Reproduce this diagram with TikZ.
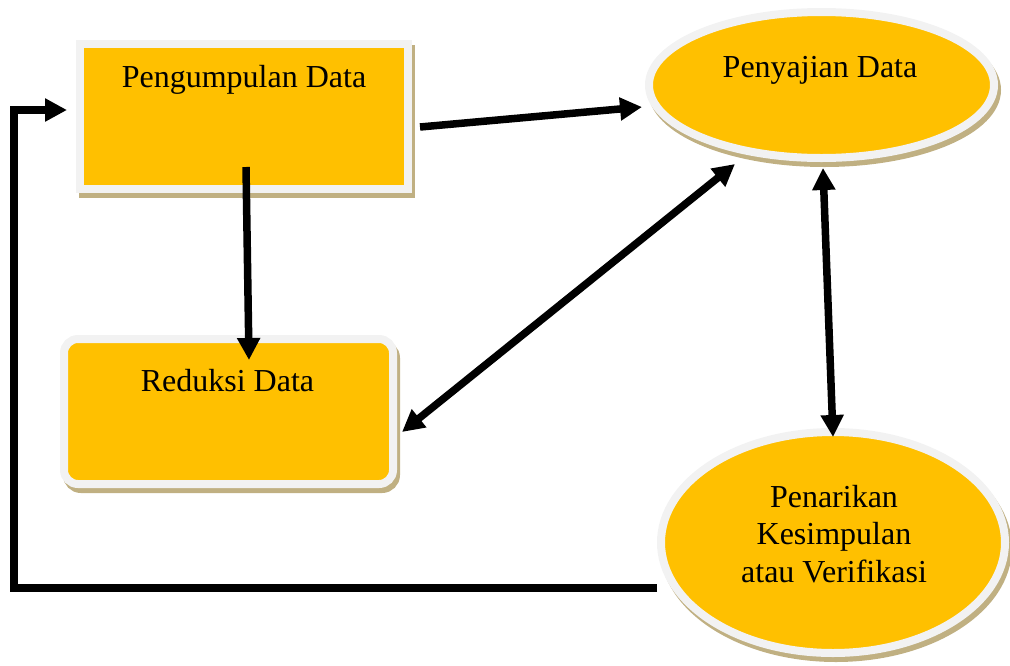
\documentclass[tikz,border=0pt]{standalone}
\usepackage{fontspec}
\setmainfont{Liberation Serif}
\usetikzlibrary{arrows.meta,shapes.geometric}
\definecolor{gold}{HTML}{FFC000}
\definecolor{rimc}{HTML}{F2F2F2}
\definecolor{shadowc}{RGB}{192,176,130}
\tikzset{
  shade3d/.style={preaction={fill=shadowc, draw=shadowc, line width=8pt,
      transform canvas={shift={(3pt,-5pt)}}}},
  panel/.style={shade3d, fill=gold, draw=rimc, line width=8pt, inner sep=0pt, outer sep=4pt},
  label32/.style={font=\fontsize{32}{37.5}\selectfont, inner sep=0pt, anchor=base},
  flow/.style={line width=7.5pt, -{Triangle[length=22pt,width=22pt]}},
  flow2/.style={line width=7.5pt, {Triangle[length=22pt,width=22pt]}-{Triangle[length=22pt,width=22pt]}},
}
\begin{document}
\begin{tikzpicture}[x=1pt,y=-1pt]
\useasboundingbox (0,0) rectangle (1010,665);
% shapes
\node[panel, rectangle, minimum width=328pt, minimum height=145pt] (peng) at (244,116.5) {};
\node[panel, rectangle, rounded corners=14pt, minimum width=329pt, minimum height=145pt] (redu) at (228.5,411.5) {};
\node[panel, ellipse, minimum width=345pt, minimum height=146pt] (peny) at (821.5,85) {};
\node[panel, ellipse, minimum width=344pt, minimum height=221pt] (pena) at (833,542.5) {};
% texts
\node[label32] (pengT) at (244,87) {Pengumpulan Data};
\node[label32] (reduT) at (227.5,391) {Reduksi Data};
\node[label32] (penyT) at (820,77) {Penyajian Data};
\node[label32, align=center] (penaT) at (834,582) {Penarikan\\Kesimpulan\\atau Verifikasi};
% connectors
\draw[flow] ([shift={(8,10.5)}]peng.east) -- ([shift={(-3,22)}]peny.west);
\draw[flow] ([shift={(2,-26)}]peng.south) -- ([shift={(20.5,25)}]redu.north);
\draw[flow2] ([shift={(5,20.5)}]redu.east) -- ([shift={(-86.5,2)}]peny.south);
\draw[flow2] ([shift={(1.5,6)}]peny.south) -- ([shift={(0,9)}]pena.north);
\coordinate (fbcorner) at (14,588);
\draw[flow] ([shift={(0,45.5)}]pena.west) -- (fbcorner) |- ([shift={(-9,-6.5)}]peng.west);
\end{tikzpicture}
\end{document}
